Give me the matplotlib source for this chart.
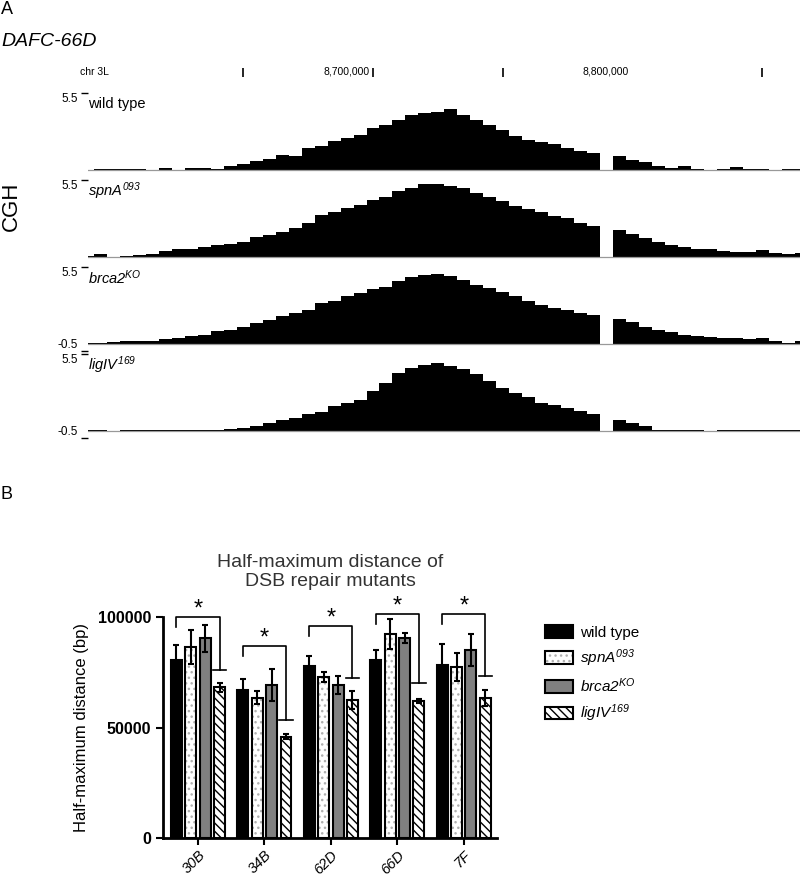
import numpy as np
import matplotlib
matplotlib.use('Agg')
import matplotlib.pyplot as plt
from matplotlib.patches import Patch

plt.rcParams['font.family'] = ['Liberation Sans', 'DejaVu Sans']
plt.rcParams['mathtext.fontset'] = 'custom'
plt.rcParams['mathtext.rm'] = 'Liberation Sans:italic'
plt.rcParams['mathtext.it'] = 'Liberation Sans:italic'
plt.rcParams['hatch.linewidth'] = 1.0

# ---- panel A data: CGH log2 ratio in 5 kb bins (NaN = no probes) ----
bin_start = 8587600
bin_width = 5000
view = (8590300, 8864600)
ruler_ticks = [8650000, 8700000, 8750000, 8850000]
ruler_labels = {8700000: '8,700,000', 8800000: '8,800,000'}

cgh_wild_type = [-0.1, 0.05, 0.1, 0.05, 0.1, 0.0, 0.15, -0.1, 0.15, 0.15,
                 0.1, 0.3, 0.4, 0.65, 0.8, 1.1, 1.0, 1.55, 1.75, 2.05,
                 2.3, 2.5, 3.0, 3.25, 3.55, 3.95, 4.1, 4.15, 4.35, 3.9,
                 3.55, 3.25, 2.85, 2.4, 2.15, 2.0, 1.85, 1.55, 1.35, 1.2,
                 np.nan, 1.0, 0.75, 0.6, 0.3, 0.15, 0.3, 0.1, 0.0, 0.05,
                 0.2, 0.05, 0.05, -0.05, 0.1, 0.1]
cgh_spnA = [0.05, 0.2, -0.05, 0.1, 0.15, 0.2, 0.45, 0.55, 0.6, 0.7,
            0.85, 0.95, 1.1, 1.4, 1.55, 1.8, 2.05, 2.4, 3.0, 3.2,
            3.5, 3.75, 4.05, 4.3, 4.7, 4.95, 5.2, 5.2, 5.05, 4.9,
            4.6, 4.3, 4.0, 3.65, 3.45, 3.2, 2.95, 2.8, 2.45, 2.2,
            np.nan, 1.9, 1.65, 1.35, 1.1, 0.85, 0.7, 0.6, 0.55, 0.45,
            0.35, 0.35, 0.5, 0.3, 0.2, 0.3]
cgh_brca2 = [0.05, 0.1, 0.15, 0.2, 0.2, 0.25, 0.35, 0.4, 0.6, 0.65,
             0.9, 1.0, 1.2, 1.5, 1.75, 2.0, 2.2, 2.45, 2.9, 3.1,
             3.4, 3.65, 3.95, 4.1, 4.5, 4.8, 4.95, 5.0, 4.85, 4.6,
             4.25, 4.0, 3.75, 3.4, 3.1, 2.8, 2.55, 2.4, 2.2, 2.1,
             np.nan, 1.8, 1.55, 1.25, 1.0, 0.85, 0.65, 0.55, 0.5, 0.45,
             0.45, 0.35, 0.45, 0.2, 0.1, 0.2]
cgh_ligIV = [0.05, 0.1, 0.0, 0.05, 0.05, 0.05, 0.1, 0.05, 0.1, 0.1,
             0.1, 0.15, 0.25, 0.35, 0.55, 0.8, 0.95, 1.2, 1.35, 1.8,
             2.0, 2.2, 2.85, 3.45, 4.15, 4.5, 4.75, 4.85, 4.65, 4.4,
             4.05, 3.55, 3.1, 2.75, 2.4, 2.0, 1.85, 1.65, 1.45, 1.2,
             np.nan, 0.8, 0.55, 0.35, 0.1, 0.05, 0.05, 0.05, 0.0, 0.05,
             0.05, 0.1, 0.05, 0.1, 0.05, 0.05]
track_names = ['wild type', r'$spnA^{093}$', r'$brca2^{KO}$', r'$ligIV^{169}$']
track_data = [cgh_wild_type, cgh_spnA, cgh_brca2, cgh_ligIV]

# ---- panel B data ----
groups = ['30B', '34B', '62D', '66D', '7F']
wt_mean = [80500, 67100, 77700, 80700, 78200]
wt_err = [6700, 4800, 4500, 4500, 9800]
spnA_mean = [86500, 63500, 72900, 92200, 77400]
spnA_err = [7800, 2900, 2200, 6800, 6300]
brca2_mean = [90300, 69200, 69200, 90500, 85000]
brca2_err = [6200, 7200, 4200, 2300, 7200]
ligIV_mean = [68100, 45800, 62400, 61900, 63500]
ligIV_err = [2000, 1200, 4200, 800, 3600]
sig_top = [100000, 87000, 96000, 101200, 101200]
sig_bottom = [76000, 53300, 72400, 70200, 73200]

W, H = 800, 877
fig = plt.figure(figsize=(W / 100, H / 100), dpi=100)


def box(x0, y0, x1, y1):
    return [x0 / W, 1 - y1 / H, (x1 - x0) / W, (y1 - y0) / H]


fig.text(1 / W, 1 - 10 / H, 'A', fontsize=13, va='center')
fig.text(1 / W, 1 - 42 / H, 'DAFC-66D', fontsize=14, style='italic', va='center')
fig.text(80 / W, 1 - 72 / H, 'chr 3L', fontsize=7.5, va='center')
fig.text(11 / W, 1 - 206 / H, 'CGH', fontsize=16, rotation=90, va='center', ha='center')
fig.text(1 / W, 1 - 494 / H, 'B', fontsize=13, va='center')

# ruler
axr = fig.add_axes(box(88, 63, 800, 81))
axr.set_xlim(view)
axr.set_ylim(0, 1)
axr.axis('off')
axr.vlines(ruler_ticks, 0.25, 0.75, color='black', lw=1.2)
for pos, lab in ruler_labels.items():
    axr.text(pos - 1200, 0.5, lab, fontsize=7.5, ha='right', va='center')

# CGH tracks
edges = bin_start + bin_width * np.arange(len(cgh_wild_type) + 1)
centers = (edges[:-1] + edges[1:]) / 2
tops = [93, 180, 267, 354]
for i, (top, vals, name) in enumerate(zip(tops, track_data, track_names)):
    ax = fig.add_axes(box(88, top, 800, top + 84))
    ax.set_xlim(view)
    ax.set_ylim(-0.5, 5.5)
    ax.bar(centers, vals, width=bin_width, color='black', linewidth=0)
    ax.axhline(0, color='#999999', lw=0.9, zorder=3)
    for s in ax.spines.values():
        s.set_visible(False)
    ax.set_xticks([])
    if i >= 2:
        ax.set_yticks([-0.5, 5.5], ['-0.5', '5.5'])
    else:
        ax.set_yticks([5.5], ['5.5'])
    ax.tick_params(axis='y', length=5, width=1, pad=2, labelsize=8.5)
    for lbl in ax.get_yticklabels():
        lbl.set_va('bottom' if lbl.get_text() == '-0.5' else 'top')
    ax.text(0.0, 0.87, name, transform=ax.transAxes, fontsize=10.5, va='center')

# ---- panel B bar chart ----
axb = fig.add_axes(box(163, 617, 497, 838))
x = np.arange(len(groups))
step, width = 0.217, 0.165
series = [
    (wt_mean, wt_err, 'black', None, 'black'),
    (spnA_mean, spnA_err, 'white', '...', '#b0b0b0'),
    (brca2_mean, brca2_err, '#808080', None, '#808080'),
    (ligIV_mean, ligIV_err, 'white', '\\\\\\\\', 'black'),
]
for j, (m, e, fc, hatch, hc) in enumerate(series):
    xs = x + (j - 1.5) * step
    axb.bar(xs, m, width, color=fc, edgecolor=hc, hatch=hatch, linewidth=0)
    axb.bar(xs, m, width, fill=False, edgecolor='black', linewidth=1.5)
    axb.errorbar(xs, m, yerr=e, fmt='none', ecolor='black', elinewidth=1.5,
                 capsize=2, capthick=1.5)

# significance brackets
for g in range(len(groups)):
    xl = x[g] - 1.5 * step
    xr = x[g] + 1.5 * step
    axb.plot([xl, xl, xr, xr], [sig_top[g] - 4500, sig_top[g], sig_top[g], sig_bottom[g]],
             color='black', lw=1.2, clip_on=False)
    axb.plot([xr - 0.1, xr + 0.1], [sig_bottom[g]] * 2, color='black', lw=1.2, clip_on=False)
    axb.text(x[g], sig_top[g] - 1500, '*', fontsize=17, ha='center', va='bottom')

axb.set_xlim(-0.525, 4.5)
axb.set_ylim(0, 100000)
axb.set_yticks([0, 50000, 100000])
axb.set_yticklabels(['0', '50000', '100000'], fontweight='bold', fontsize=11.5)
axb.set_xticks(x)
axb.set_xticklabels(groups, rotation=45, ha='right', rotation_mode='anchor',
                    style='italic', fontsize=10.5)
axb.tick_params(length=5, width=1.5)
axb.tick_params(axis='x', pad=2)
for s in ['top', 'right']:
    axb.spines[s].set_visible(False)
for s in ['left', 'bottom']:
    axb.spines[s].set_linewidth(2)
axb.set_ylabel('Half-maximum distance (bp)', fontsize=12, labelpad=6)
axb.set_title('Half-maximum distance of\nDSB repair mutants', fontsize=14,
              color='#333333', pad=22)

handles = [
    Patch(facecolor='black', edgecolor='black', linewidth=1.5),
    (Patch(facecolor='white', edgecolor='#b0b0b0', hatch='...', linewidth=0),
     Patch(fill=False, edgecolor='black', linewidth=1.5)),
    Patch(facecolor='#808080', edgecolor='black', linewidth=1.5),
    Patch(facecolor='white', edgecolor='black', hatch='\\\\\\\\', linewidth=1.5),
]
labels = ['wild type', r'$spnA^{093}$', r'$brca2^{KO}$', r'$ligIV^{169}$']
fig.legend(handles, labels, loc='upper left', bbox_to_anchor=(545 / W, 1 - 625 / H),
           frameon=False, fontsize=11, handlelength=1.8, handleheight=0.9,
           labelspacing=0.5, handletextpad=0.5, borderpad=0, borderaxespad=0)

fig.savefig('out.png', dpi=100)
